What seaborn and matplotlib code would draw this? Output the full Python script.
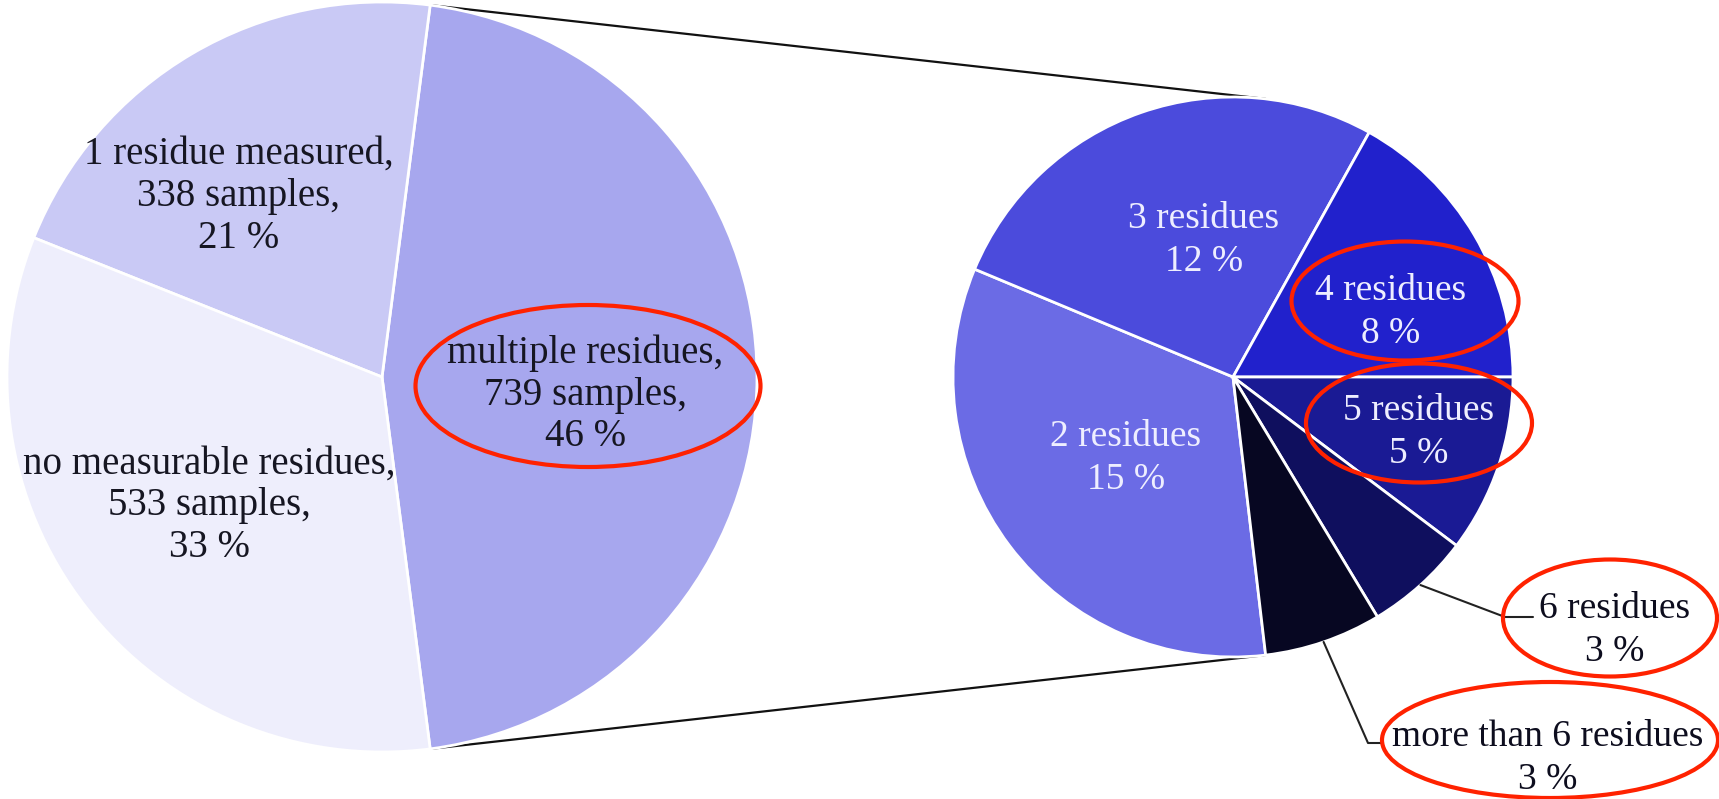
import numpy as np
import matplotlib
matplotlib.use('Agg')
from matplotlib import pyplot as plt
from matplotlib.patches import Ellipse
import seaborn as sns

# data: overall samples
main_labels = ['multiple residues', '1 residue measured', 'no measurable residues']
main_counts = [739, 338, 533]
main_colors = ['#a7a7ee', '#c9c9f5', '#eeeefc']

# data: breakdown of "multiple residues"
sub_labels = ['2 residues', '3 residues', '4 residues', '5 residues', '6 residues', 'more than 6 residues']
sub_counts = [245, 198, 125, 76, 45, 50]
sub_colors = ['#6b6be5', '#4b4bdc', '#2121cc', '#1a1a94', '#0f0f5e', '#070722']

W, H = 1719, 799

sns.set_theme(style='white')
plt.rcParams['font.family'] = ['Liberation Serif', 'DejaVu Serif']

fig = plt.figure(figsize=(W / 100, H / 100), dpi=100)
ax = fig.add_axes([0, 0, 1, 1])

total = sum(main_counts)
pct = lambda c: int(round(100.0 * c / total))

# left pie
c1 = (382, H - 377)
r1 = 375
start1 = -180.0 * main_counts[0] / total
wedges1, _ = ax.pie(main_counts, colors=main_colors, center=c1, radius=r1, startangle=start1,
                    counterclock=True, wedgeprops=dict(edgecolor='white', linewidth=2), frame=True)

# right pie (clockwise so that 4/5 residues boundary is horizontal)
c2 = (1233, H - 377)
r2 = 280
sub_total = sum(sub_counts)
start2 = -360.0 * sum(sub_counts[3:]) / sub_total
wedges2, _ = ax.pie(sub_counts, colors=sub_colors, center=c2, radius=r2, startangle=start2,
                    counterclock=False, wedgeprops=dict(edgecolor='white', linewidth=2), frame=True)


def polar(c, r, ang):
    a = np.deg2rad(ang)
    return c[0] + r * np.cos(a), c[1] + r * np.sin(a)


def mid(w):
    return (w.theta1 + w.theta2) / 2.0


# left labels: (radial fraction, angle tweak)
main_pos = [(0.545, -5), (0.615, 8), (0.574, -1)]
main_texts = ['%s,\n%d samples,\n%d %%' % (l, c, pct(c)) for l, c in zip(main_labels, main_counts)]
for w, t, (f, da) in zip(wedges1, main_texts, main_pos):
    x, y = polar(c1, f * r1, mid(w) + da)
    ax.text(x, y, t, ha='center', va='center', fontsize=28, color='#161622', linespacing=1.17)

# right labels inside wedges
sub_pos = [(0.48, 0), (0.50, -7), (0.61, -8), (0.69, 2)]
for w, l, c, (f, da) in zip(wedges2[:4], sub_labels[:4], sub_counts[:4], sub_pos):
    x, y = polar(c2, f * r2, mid(w) + da)
    ax.text(x, y, '%s\n%d %%' % (l, pct(c)), ha='center', va='center', fontsize=27,
            color='#eeeeff', linespacing=1.32)

# outside labels with leader lines
elbows = [((1505, H - 617), (1533, H - 617), (1615, H - 630)),
          ((1368, H - 743), (1383, H - 743), (1548, H - 758))]
for w, l, c, (e1, e2, tp) in zip(wedges2[4:], sub_labels[4:], sub_counts[4:], elbows):
    p0 = polar(c2, r2, mid(w))
    ax.plot([p0[0], e1[0], e2[0]], [p0[1], e1[1], e2[1]], color='#222222', lw=1.5, zorder=1)
    ax.text(tp[0], tp[1], '%s\n%d %%' % (l, pct(c)), ha='center', va='center', fontsize=27,
            color='#0d0d1e', linespacing=1.32)

# connectors between the two pies
for ang1, ang2 in [(wedges1[0].theta2, -start2), (wedges1[0].theta1, start2)]:
    pa = polar(c1, r1, ang1)
    pb = polar(c2, r2, ang2)
    ax.plot([pa[0], pb[0]], [pa[1], pb[1]], color='#111111', lw=1.6, zorder=0)

# red highlight ellipses
ellipses = [(588, 386, 345, 162), (1405, 301, 227, 119), (1419, 423, 226, 119),
            (1610, 618, 214, 117), (1550, 740, 336, 116)]
for ex, ey, ew, eh in ellipses:
    ax.add_patch(Ellipse((ex, H - ey), ew, eh, fill=False, edgecolor='#ff2200', lw=3, zorder=5))

ax.set_xlim(0, W)
ax.set_ylim(0, H)
ax.set_aspect('equal')
ax.axis('off')

fig.savefig('out.png', dpi=100, facecolor='white')
